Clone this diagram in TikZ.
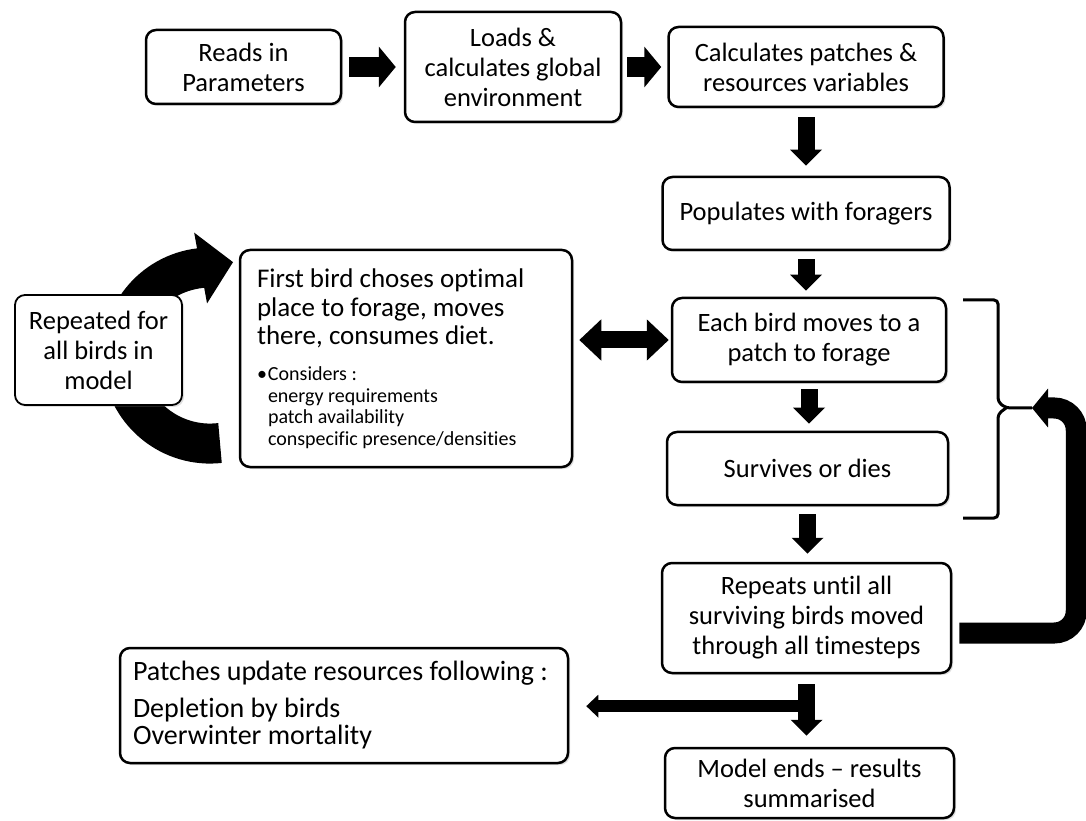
\documentclass[tikz,border=0pt]{standalone}
\usepackage{fontspec}
\setmainfont{Carlito}[Ligatures=NoCommon]
\usetikzlibrary{arrows.meta,shadows,calc}
\tikzset{
  blk/.style={draw, line width=2.5pt, rounded corners=10pt, fill=white, align=center, inner sep=0pt,
    font=\fontsize{26.5}{30}\selectfont, drop shadow={shadow xshift=2pt, shadow yshift=-2pt, opacity=0.25}},
  harr/.style={line width=20pt, -{Triangle[width=40pt,length=17pt]}},
  varr/.style={line width=17pt, -{Triangle[width=31pt,length=16pt]}},
  sidearr/.style={line width=12pt, -{Triangle[width=22pt,length=12pt]}},
  dblarr/.style={line width=17pt, {Triangle[width=40pt,length=22pt]}-{Triangle[width=40pt,length=22pt]}},
  looparr/.style={line width=21pt, -{Triangle[width=38pt,length=16pt]}},
}
\begin{document}
\begin{tikzpicture}[x=1pt,y=1pt]
    \useasboundingbox (0,0) rectangle (1086,820);
    \coordinate (tail) at (220,377);
    \draw[line width=40pt, -{Triangle[width=70pt,length=33pt]}] (tail) arc[start angle=-83.5, end angle=-263.5, radius=88] -- ++(33,6);
    \node[blk, minimum width=195pt, minimum height=74pt] (reads) at (243.5,753) {Reads in\\Parameters};
    \node[blk, minimum width=216pt, minimum height=110pt] (loads) at (513,753) {Loads \&\\calculates global\\environment};
    \node[blk, minimum width=275pt, minimum height=80pt] (calc) at (806,753) {Calculates patches \&\\resources variables};
    \node[blk, minimum width=287pt, minimum height=73pt] (pop) at (806,606.5) {Populates with foragers};
    \node[blk, minimum width=274pt, minimum height=84pt] (each) at (809,480) {Each bird moves to a\\patch to forage};
    \node[blk, minimum width=281pt, minimum height=73pt] (surv) at (807.5,351.5) {Survives or dies};
    \node[blk, minimum width=289pt, minimum height=110pt] (rep) at (806.5,202) {Repeats until all\\surviving birds moved\\through all timesteps};
    \node[blk, minimum width=289pt, minimum height=70pt] (ends) at (809.5,37) {Model ends -- results\\summarised};
    \node[blk, align=flush left, text width=422pt, inner xsep=13pt, minimum height=115pt, font=\fontsize{28}{27}\selectfont] (upd) at (344,114.5) {Patches update resources following :\\[10pt]Depletion by birds\\Overwinter mortality};
    \node[blk, align=flush left, text width=298pt, inner xsep=17pt, minimum height=217pt, font=\fontsize{27}{28.5}\selectfont] (first) at (406,461.5) {First bird choses optimal\\place to forage, moves\\there, consumes diet.\\[14.5pt]
      \fontsize{20}{21.5}\selectfont\makebox[11pt][l]{\textbullet}Considers :\\\hspace*{11pt}energy requirements\\\hspace*{11pt}patch availability\\\hspace*{11pt}conspecific presence/densities\par};
    \node[blk, line width=1.8pt, minimum width=167pt, minimum height=110pt] (rpt) at (98.5,470) {Repeated for\\all birds in\\model};
    \draw[harr, shorten <=7pt, shorten >=8pt] (reads) -- (loads);
    \draw[harr, shorten <=5pt, shorten >=6pt] (loads) -- (calc);
    \draw[varr, shorten <=9pt, shorten >=10pt] (calc.south) -- (calc.south |- pop.north);
    \draw[varr, shorten <=8pt, shorten >=6pt] (pop.south) -- (pop.south |- each.north);
    \draw[varr, shorten <=6pt, shorten >=7pt] (each.south) -- (each.south |- surv.north);
    \draw[varr, shorten <=8pt, shorten >=8pt] (surv.south) -- (surv.south |- rep.north);
    \draw[varr, shorten <=10pt, shorten >=11pt] (rep.south) -- (rep.south |- ends.north);
    \coordinate (split) at ($(rep.south)!0.44!(rep.south |- ends.north)$);
    \draw[sidearr, shorten >=17pt] (split) -- (split -| upd.east);
    \draw[dblarr, shorten <=6pt, shorten >=2pt] (each.west -| first.east) -- (each.west);
    \coordinate (brk) at (1032,412);
    \draw[line width=3pt, rounded corners=4pt] (963,520) -- (998,520) -- (998,418) -- (1006,412) -- (brk);
    \draw[line width=3pt, rounded corners=4pt] (963,302) -- (998,302) -- (998,406) -- (1006,412);
    \draw[looparr, rounded corners=22pt, shorten <=7pt] ([yshift=-15pt]rep.east) -- ++(124,0) |- (brk);
\end{tikzpicture}
\end{document}
